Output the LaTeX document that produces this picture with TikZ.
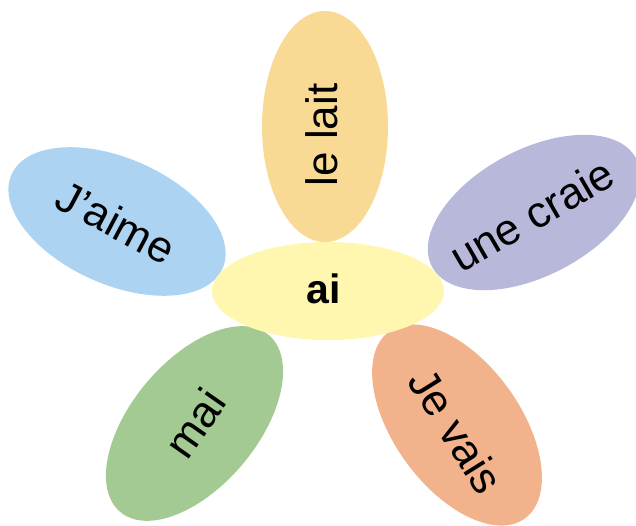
\documentclass[tikz,border=0pt]{standalone}
\usepackage{fontspec}
\setmainfont{Liberation Sans}
\usetikzlibrary{shapes.geometric}
\definecolor{cTop}{HTML}{F9DA95}
\definecolor{cBlue}{HTML}{ACD4F2}
\definecolor{cPurple}{HTML}{B8B8DA}
\definecolor{cGreen}{HTML}{A3CA93}
\definecolor{cOrange}{HTML}{F2B28C}
\definecolor{cCenter}{HTML}{FFF7B0}
\tikzset{
  petal/.style={ellipse, draw=none, inner sep=0pt, minimum width=231pt, minimum height=126pt},
  core/.style={ellipse, draw=none, fill=cCenter, inner sep=0pt, minimum width=232pt, minimum height=98pt},
  lbl/.style={inner sep=0pt, font=\fontsize{44}{44}\selectfont},
  corelbl/.style={inner sep=0pt, font=\fontsize{41}{41}\selectfont\bfseries}
}
\begin{document}
\begin{tikzpicture}[x=1pt,y=-1pt]
\useasboundingbox (0,0) rectangle (636,526);
\clip (0,0) rectangle (636,526);
\node[petal, fill=cTop, rotate=90] (top) at (325,126.5) {};
\node[petal, fill=cBlue, rotate=-24] (left) at (117,221.5) {};
\node[petal, fill=cPurple, rotate=28] (right) at (534,212.5) {};
\node[petal, fill=cGreen, rotate=50] (bl) at (194.5,423.5) {};
\node[petal, fill=cOrange, rotate=-54] (br) at (457,425) {};
\node[core] (ctr) at (328,291) {};
\node[lbl, rotate=90] (ttop) at (322,135) {le lait};
\node[lbl, rotate=-28] (tleft) at (116,222) {J’aime};
\node[lbl, rotate=30] (tright) at (532,215) {une craie};
\node[lbl, rotate=55] (tbl) at (195,423) {mai};
\node[lbl, rotate=-58] (tbr) at (456,431) {Je vais};
\node[corelbl] (tctr) at (324,289) {ai};
\end{tikzpicture}
\end{document}
